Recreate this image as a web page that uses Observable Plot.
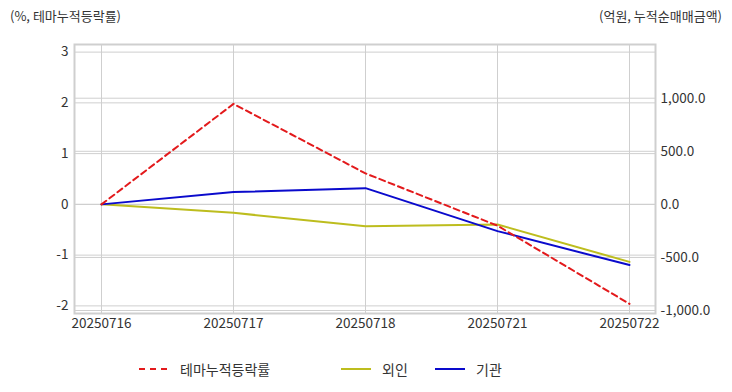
<!DOCTYPE html>
<html>
<head>
<meta charset="utf-8">
<script src="https://cdn.jsdelivr.net/npm/d3@7"></script>
<script src="https://cdn.jsdelivr.net/npm/@observablehq/plot@0.6"></script>
<style>
  body { margin: 0; background: #fff; font-family: "Noto Sans CJK KR", "Noto Sans", sans-serif; }
  #wrap { position: relative; width: 732px; height: 392px; overflow: hidden; background: #fff; }
  .ttl { position: absolute; top: 6px; font-size: 13px; color: #333; white-space: nowrap; z-index: 2; }
  #legend { position: absolute; top: 359px; left: 0; width: 732px; height: 20px; font-size: 14px; color: #333; z-index: 2; }
  .lg { position: absolute; top: 0; display: flex; align-items: center; height: 20px; }
  .sw { width: 30px; height: 0; margin-right: 11px; }
  #chart { position: absolute; top: 0; left: 0; z-index: 1; }
</style>
</head>
<body>
<div id="wrap">
  <div id="chart"></div>
  <div class="ttl" style="left:10px">(%, 테마누적등락률)</div>
  <div class="ttl" style="right:10px">(억원, 누적순매매금액)</div>
  <div id="legend"></div>
</div>
<script>
const dates = ["20250716", "20250717", "20250718", "20250721", "20250722"];
const themeReturn = [0, 1.98, 0.61, -0.42, -1.96];      // %, left axis
const foreign = [0, -80, -205, -190, -542];              // 억원, right axis
const institution = [0, 116, 153, -252, -572];           // 억원, right axis
const leftTicks = [-2, -1, 0, 1, 2, 3];
const rightTicks = [-1000, -500, 0, 500, 1000];
const seriesNames = ["테마누적등락률", "외인", "기관"];
const seriesColors = ["#e31a1c", "#bdbd1e", "#0a0acc"];

const leftDomain = [-2.15, 3.15];
const rightDomain = [-1028, 1506];
const r2l = d3.scaleLinear(rightDomain, leftDomain);

const rows = [];
dates.forEach((d, i) => {
  rows.push({date: d, series: seriesNames[0], v: themeReturn[i]});
  rows.push({date: d, series: seriesNames[1], v: r2l(foreign[i])});
  rows.push({date: d, series: seriesNames[2], v: r2l(institution[i])});
});

const fmtR = d3.format(",.1f");
const hy = s => s.replace(/\u2212/g, "-");
const gridColor = "#cfcfcf";
const fs = 13.5;

const chart = Plot.plot({
  width: 732,
  height: 340,
  marginTop: 44,
  marginBottom: 27,
  marginLeft: 74,
  marginRight: 77,
  style: {fontFamily: '"Noto Sans CJK KR", "Noto Sans", sans-serif', fontSize: fs + "px", color: "#333", background: "transparent"},
  x: {type: "point", domain: dates, padding: 0.2},
  y: {domain: leftDomain},
  marks: [
    Plot.gridX(dates, {stroke: gridColor, strokeOpacity: 1}),
    Plot.gridY(leftTicks, {stroke: gridColor, strokeOpacity: 1}),
    Plot.gridY(rightTicks.map(r2l), {stroke: gridColor, strokeOpacity: 1}),
    Plot.frame({stroke: gridColor, strokeWidth: 2}),
    Plot.axisX(dates, {tickSize: 0, tickPadding: 5, label: null, fill: "#333", fontSize: fs}),
    Plot.axisY(leftTicks, {anchor: "left", tickSize: 0, tickPadding: 6, label: null, fill: "#333", fontSize: fs,
      tickFormat: d => String(d)}),
    Plot.axisY(rightTicks.map(r2l), {anchor: "right", tickSize: 0, tickPadding: 5, label: null, fill: "#333", fontSize: fs,
      tickFormat: d => hy(fmtR(Math.round(r2l.invert(d))))}),
    Plot.line(rows.filter(r => r.series === seriesNames[1]), {x: "date", y: "v", stroke: seriesColors[1], strokeWidth: 2}),
    Plot.line(rows.filter(r => r.series === seriesNames[2]), {x: "date", y: "v", stroke: seriesColors[2], strokeWidth: 2}),
    Plot.line(rows.filter(r => r.series === seriesNames[0]), {x: "date", y: "v", stroke: seriesColors[0], strokeWidth: 2, strokeDasharray: "6,4"})
  ]
});
document.getElementById("chart").appendChild(chart);

const legend = document.getElementById("legend");
const lgLeft = [139, 341, 435];
seriesNames.forEach((name, i) => {
  const item = document.createElement("div");
  item.className = "lg";
  item.style.left = lgLeft[i] + "px";
  const sw = document.createElement("div");
  sw.className = "sw";
  sw.style.borderTop = (i === 0 ? "2px dashed " : "2px solid ") + seriesColors[i];
  if (i === 0) { sw.style.width = "28px"; sw.style.marginRight = "13px"; }
  item.appendChild(sw);
  const t = document.createElement("span");
  t.textContent = name;
  item.appendChild(t);
  legend.appendChild(item);
});
</script>
</body>
</html>
